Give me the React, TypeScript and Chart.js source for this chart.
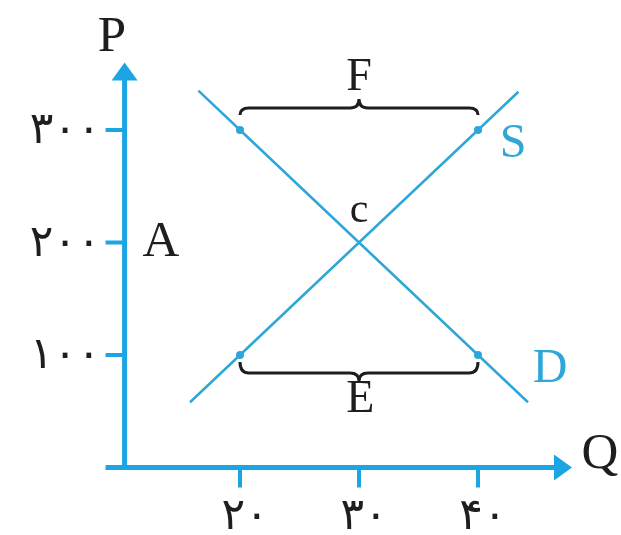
import React, { useEffect, useRef } from "react";
import { Chart, registerables } from "chart.js";

Chart.register(...registerables);

// ---- data ----
const supplyQ = [15.8, 20, 30, 40, 43.4];
const supplyP = [58, 100, 200, 300, 334];
const demandQ = [16.5, 20, 30, 40, 44.2];
const demandP = [335, 300, 200, 100, 58];
const markedQ = [20, 40];

const xTickValues = [20, 30, 40];
const xTickLabels = ["۲۰", "۳۰", "۴۰"];
const yTickValues = [300, 200, 100];
const yTickLabels = ["۳۰۰", "۲۰۰", "۱۰۰"];

// axis geometry in data units
const axisOriginQ = 10.3;
const axisOriginP = 0;
const axisStartQ = 8.7;
const axisEndQ = 47.9;
const axisEndP = 360;

// text annotations in data units [text, Q, P(baseline)]
const textLabels: [string, number, number][] = [
  ["P", 9.24, 369.8],
  ["A", 13.36, 187.6],
  ["Q", 50.25, 0],
  ["F", 30, 336],
  ["E", 30.1, 49],
  ["c", 30, 218],
];
const curveLabels: [string, number, number][] = [
  ["S", 42.94, 276.4],
  ["D", 46.05, 75.6],
];

const AXIS_BLUE = "#1ba6e3";
const LINE_BLUE = "#2ea7d8";
const INK = "#1e1e1e";

function drawBrace(
  ctx: CanvasRenderingContext2D,
  x1: number,
  x2: number,
  yEnd: number,
  yLine: number,
  yTip: number
) {
  const r = 9;
  const xm = (x1 + x2) / 2;
  ctx.beginPath();
  ctx.moveTo(x1, yEnd);
  ctx.quadraticCurveTo(x1, yLine, x1 + r, yLine);
  ctx.lineTo(xm - r, yLine);
  ctx.quadraticCurveTo(xm, yLine, xm, yTip);
  ctx.quadraticCurveTo(xm, yLine, xm + r, yLine);
  ctx.lineTo(x2 - r, yLine);
  ctx.quadraticCurveTo(x2, yLine, x2, yEnd);
  ctx.stroke();
}

const diagramPlugin = {
  id: "diagram",
  beforeDatasetsDraw(chart: any) {
    const { ctx } = chart;
    const xs = chart.scales.x;
    const ys = chart.scales.y;
    const ox = xs.getPixelForValue(axisOriginQ);
    const oy = ys.getPixelForValue(axisOriginP);
    const sx = xs.getPixelForValue(axisStartQ);
    const ex = xs.getPixelForValue(axisEndQ);
    const ey = ys.getPixelForValue(axisEndP);
    ctx.save();
    ctx.strokeStyle = AXIS_BLUE;
    ctx.fillStyle = AXIS_BLUE;
    ctx.lineWidth = 5;
    ctx.lineCap = "butt";
    // x axis
    ctx.beginPath();
    ctx.moveTo(sx, oy);
    ctx.lineTo(ex - 14, oy);
    ctx.stroke();
    // y axis
    ctx.beginPath();
    ctx.moveTo(ox, oy + 2.5);
    ctx.lineTo(ox, ey + 14);
    ctx.stroke();
    // arrow heads
    ctx.beginPath();
    ctx.moveTo(ex, oy);
    ctx.lineTo(ex - 18, oy - 13);
    ctx.lineTo(ex - 18, oy + 13);
    ctx.closePath();
    ctx.fill();
    ctx.beginPath();
    ctx.moveTo(ox, ey);
    ctx.lineTo(ox - 13, ey + 18);
    ctx.lineTo(ox + 13, ey + 18);
    ctx.closePath();
    ctx.fill();
    // ticks
    ctx.lineWidth = 4;
    xTickValues.forEach((v) => {
      const px = xs.getPixelForValue(v);
      ctx.beginPath();
      ctx.moveTo(px, oy);
      ctx.lineTo(px, oy + 20);
      ctx.stroke();
    });
    yTickValues.forEach((v) => {
      const py = ys.getPixelForValue(v);
      ctx.beginPath();
      ctx.moveTo(ox, py);
      ctx.lineTo(ox - 19, py);
      ctx.stroke();
    });
    // tick labels
    ctx.fillStyle = INK;
    ctx.font = "44px 'DejaVu Sans'";
    (ctx as any).letterSpacing = "7px";
    ctx.textBaseline = "middle";
    ctx.textAlign = "right";
    yTickValues.forEach((v, i) => {
      const py = ys.getPixelForValue(v);
      ctx.fillText(yTickLabels[i], ox - 24, py + 2);
    });
    ctx.textAlign = "center";
    xTickValues.forEach((v, i) => {
      const px = xs.getPixelForValue(v);
      ctx.fillText(xTickLabels[i], px + 5, oy + 50);
    });
    (ctx as any).letterSpacing = "0px";
    // braces
    ctx.strokeStyle = INK;
    ctx.lineWidth = 3;
    const bx1 = xs.getPixelForValue(markedQ[0]);
    const bx2 = xs.getPixelForValue(markedQ[1]);
    const top = ys.getPixelForValue(300);
    const bot = ys.getPixelForValue(100);
    drawBrace(ctx, bx1, bx2, top - 15, top - 22, top - 31);
    drawBrace(ctx, bx1, bx2, bot + 7, bot + 18, bot + 26);
    // text labels
    ctx.textBaseline = "alphabetic";
    ctx.textAlign = "center";
    textLabels.forEach(([t, q, p]) => {
      ctx.font = t === "c" ? "42px 'Liberation Serif'" : t === "F" || t === "E" ? "46px 'Liberation Serif'" : "51px 'Liberation Serif'";
      ctx.fillText(t, xs.getPixelForValue(q), ys.getPixelForValue(p));
    });
    ctx.fillStyle = LINE_BLUE;
    ctx.font = "48px 'Liberation Serif'";
    curveLabels.forEach(([t, q, p]) => {
      ctx.fillText(t, xs.getPixelForValue(q), ys.getPixelForValue(p));
    });
    ctx.restore();
  },
};

export default function App() {
  const ref = useRef<HTMLCanvasElement>(null);
  useEffect(() => {
    if (!ref.current) return;
    const radius = (qs: number[]) => qs.map((q) => (markedQ.includes(q) ? 4 : 0));
    const chart = new Chart(ref.current, {
      type: "scatter",
      data: {
        datasets: [
          {
            label: "S",
            data: supplyQ.map((q, i) => ({ x: q, y: supplyP[i] })),
            showLine: true,
            borderColor: LINE_BLUE,
            backgroundColor: LINE_BLUE,
            borderWidth: 2.5,
            pointRadius: radius(supplyQ),
            pointBorderWidth: 0,
          },
          {
            label: "D",
            data: demandQ.map((q, i) => ({ x: q, y: demandP[i] })),
            showLine: true,
            borderColor: LINE_BLUE,
            backgroundColor: LINE_BLUE,
            borderWidth: 2.5,
            pointRadius: radius(demandQ),
            pointBorderWidth: 0,
          },
        ],
      },
      options: {
        animation: false,
        responsive: true,
        maintainAspectRatio: false,
        layout: { padding: 0 },
        plugins: { legend: { display: false }, tooltip: { enabled: false } },
        scales: {
          x: { type: "linear", display: false, min: -0.17, max: 52.017 },
          y: { type: "linear", display: false, min: -60, max: 415.56 },
        },
      },
      plugins: [diagramPlugin],
    });
    return () => chart.destroy();
  }, []);
  return (
    <div style={{ position: "absolute", left: 0, top: 0, width: 621, height: 535, background: "#fff" }}>
      <canvas ref={ref} />
    </div>
  );
}
